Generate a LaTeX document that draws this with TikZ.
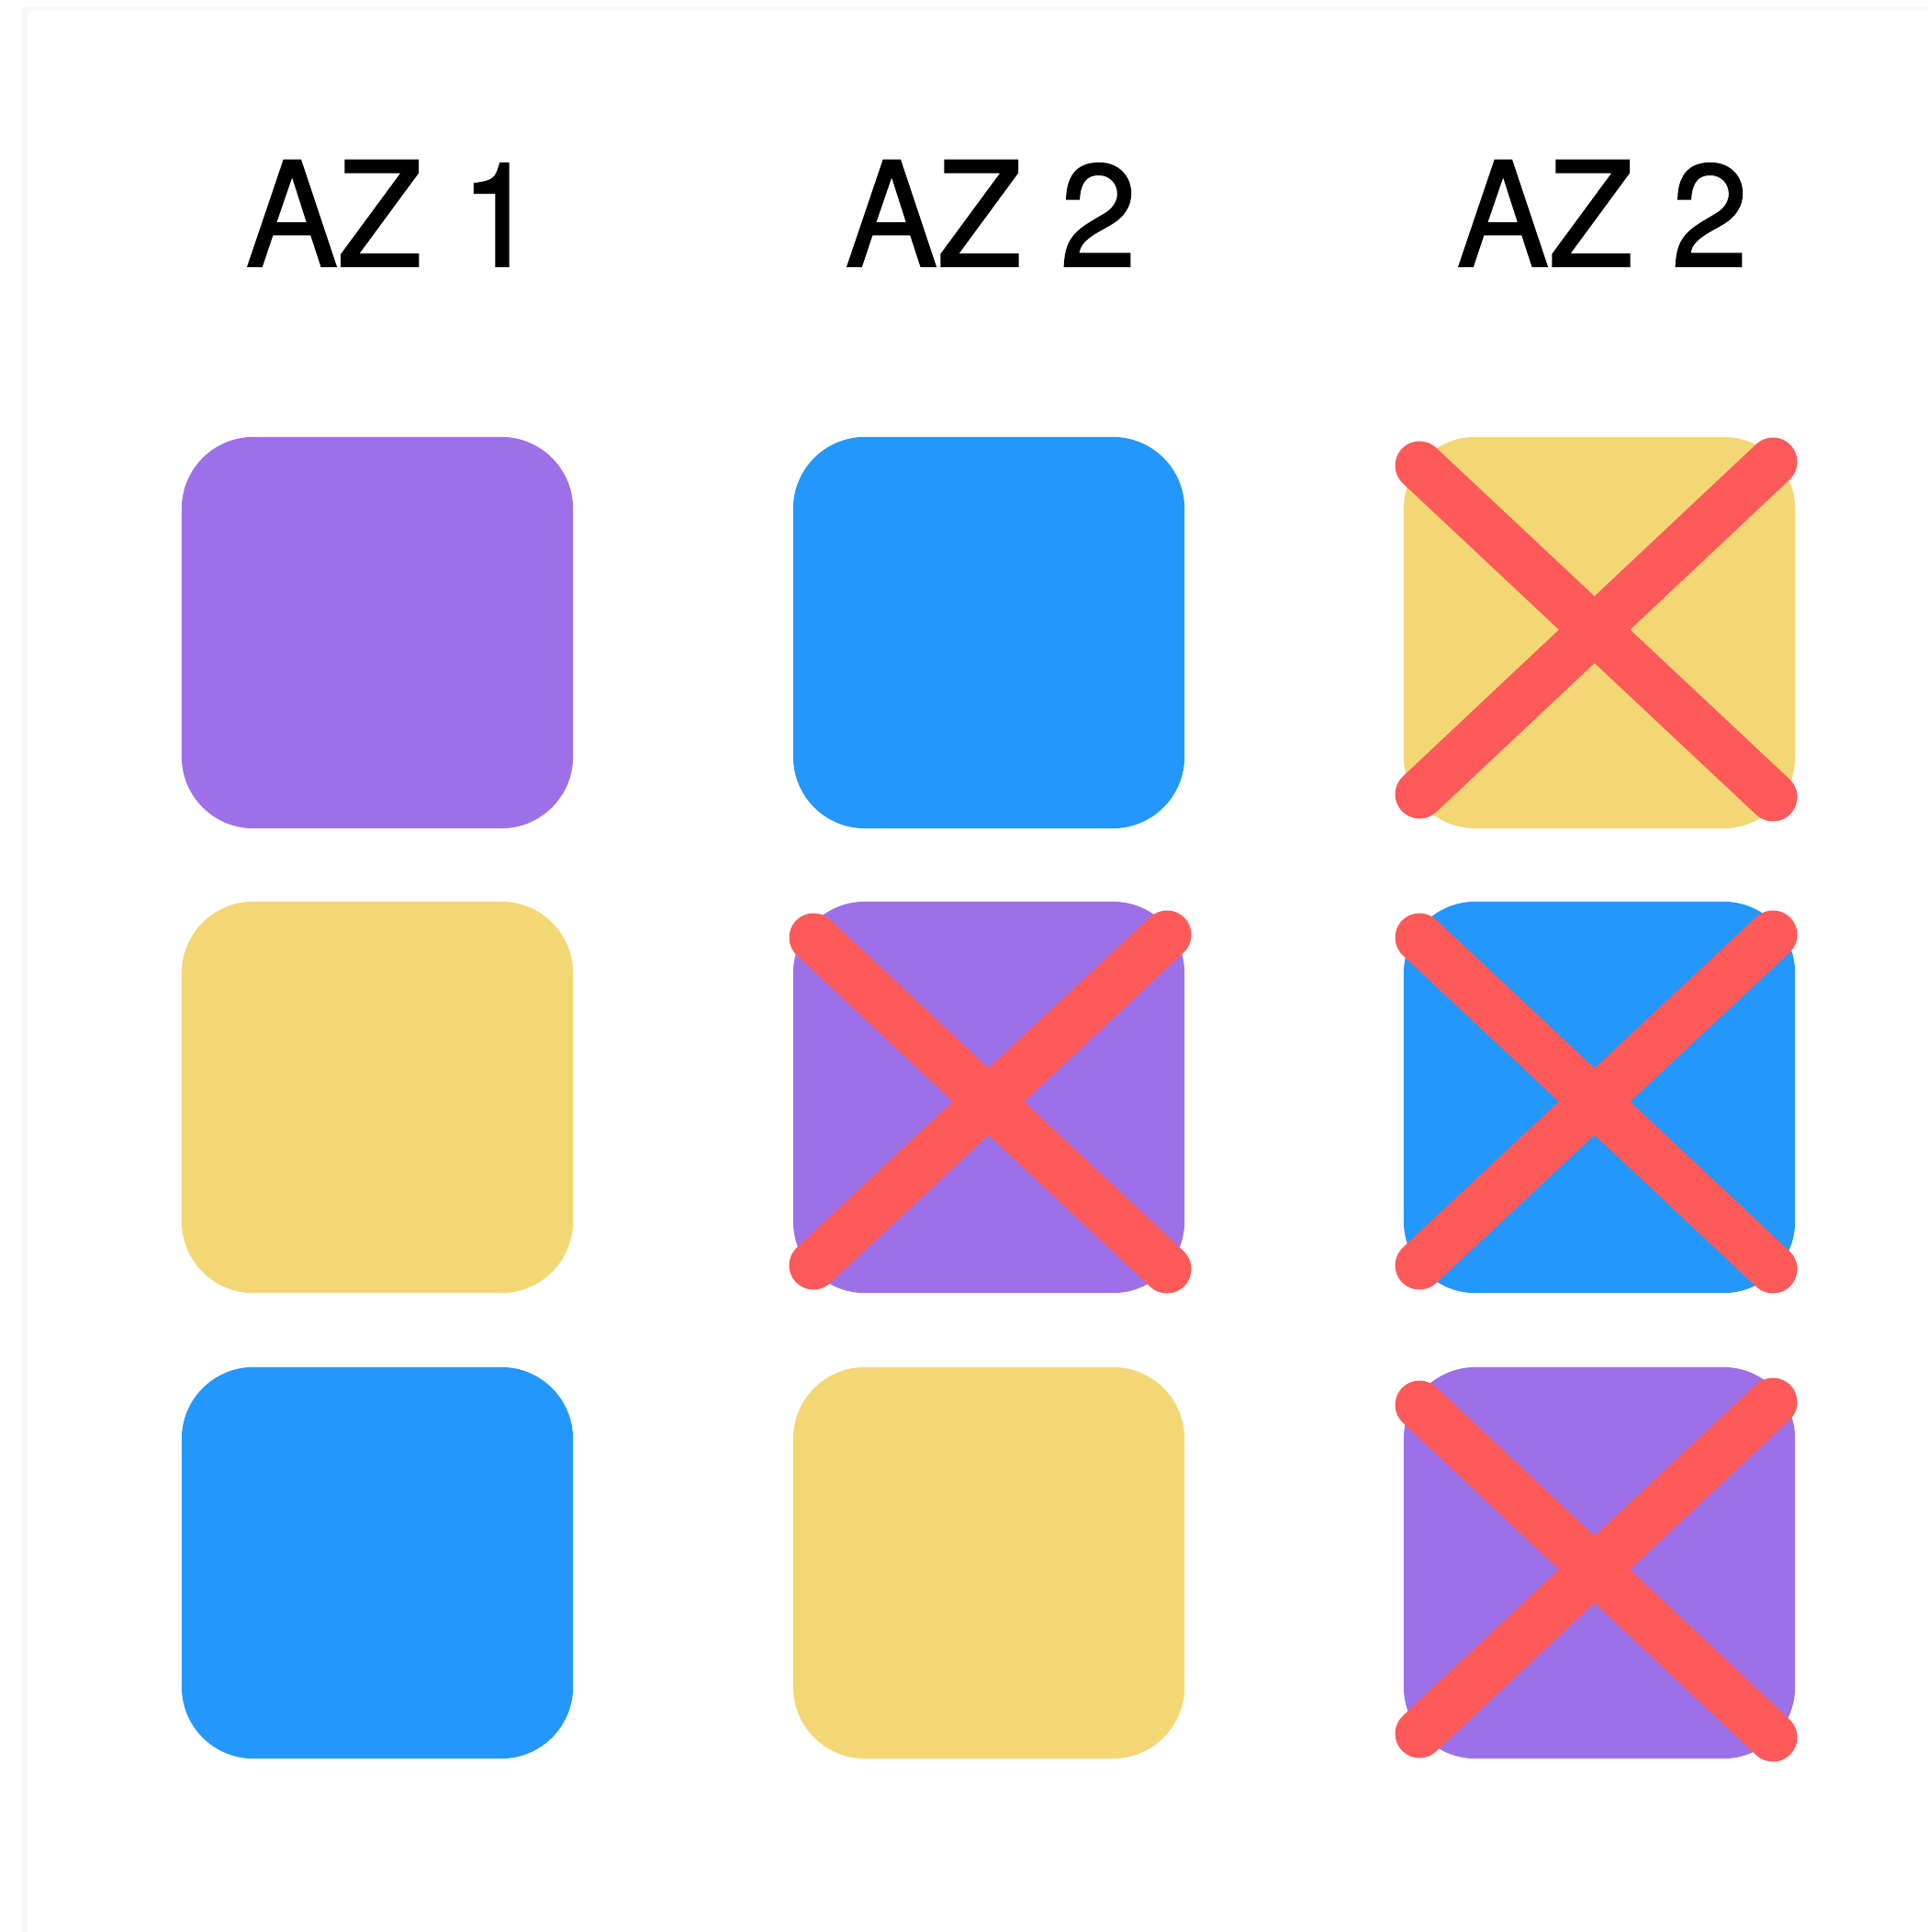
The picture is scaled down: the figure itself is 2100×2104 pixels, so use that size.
\documentclass[tikz,border=0pt]{standalone}
\usepackage{fontspec}
\setmainfont{TeX Gyre Heros}[FakeBold=1.2]
\definecolor{azpurple}{HTML}{9E70E8}
\definecolor{azblue}{HTML}{2497FC}
\definecolor{azyellow}{HTML}{F4D775}
\definecolor{azred}{HTML}{FE5A5A}
\definecolor{framegray}{HTML}{F8F8F8}
\tikzset{
  tile/.style={rectangle, rounded corners=0.78cm, minimum width=4.26cm, minimum height=4.26cm, inner sep=0pt, draw=none},
  azlabel/.style={anchor=base west, inner sep=0pt, xscale=0.95, transform shape, font=\fontsize{45}{50}\selectfont},
  cross/.style={draw=azred, line width=0.53cm, line cap=round},
}
\begin{document}
\begin{tikzpicture}[x=0.01cm, y=-0.01cm]
\fill[white] (0,0) rectangle (2100,2104);
\useasboundingbox (0,0) rectangle (2100,2104);
\draw[framegray, line width=0.05cm] (27,2104) -- (27,10) -- (2100,10);

% headings
\node[azlabel] (h1) at (267,290) {AZ 1};
\node[azlabel] (h2) at (920,290) {AZ 2};
\node[azlabel] (h3) at (1586,290) {AZ 2};

% tiles
\node[tile, fill=azpurple] (t11) at (411,689) {};
\node[tile, fill=azyellow] (t21) at (411,1195) {};
\node[tile, fill=azblue]   (t31) at (411,1702) {};
\node[tile, fill=azblue]   (t12) at (1077,689) {};
\node[tile, fill=azpurple] (t22) at (1077,1195) {};
\node[tile, fill=azyellow] (t32) at (1077,1702) {};
\node[tile, fill=azyellow] (t13) at (1742,689) {};
\node[tile, fill=azblue]   (t23) at (1742,1195) {};
\node[tile, fill=azpurple] (t33) at (1742,1702) {};

% crosses
\coordinate (a1) at (1546,507);  \coordinate (a2) at (1931,503);
\coordinate (a3) at (1546,865);  \coordinate (a4) at (1931,868);
\draw[cross] (a1) -- (a4);
\draw[cross] (a2) -- (a3);

\coordinate (b1) at (886,1021);  \coordinate (b2) at (1271,1018);
\coordinate (b3) at (886,1378);  \coordinate (b4) at (1271,1382);
\draw[cross] (b1) -- (b4);
\draw[cross] (b2) -- (b3);

\coordinate (c1) at (1546,1021); \coordinate (c2) at (1931,1018);
\coordinate (c3) at (1546,1378); \coordinate (c4) at (1931,1382);
\draw[cross] (c1) -- (c4);
\draw[cross] (c2) -- (c3);

\coordinate (d1) at (1546,1530); \coordinate (d2) at (1931,1527);
\coordinate (d3) at (1546,1888); \coordinate (d4) at (1931,1892);
\draw[cross] (d1) -- (d4);
\draw[cross] (d2) -- (d3);
\end{tikzpicture}
\end{document}
